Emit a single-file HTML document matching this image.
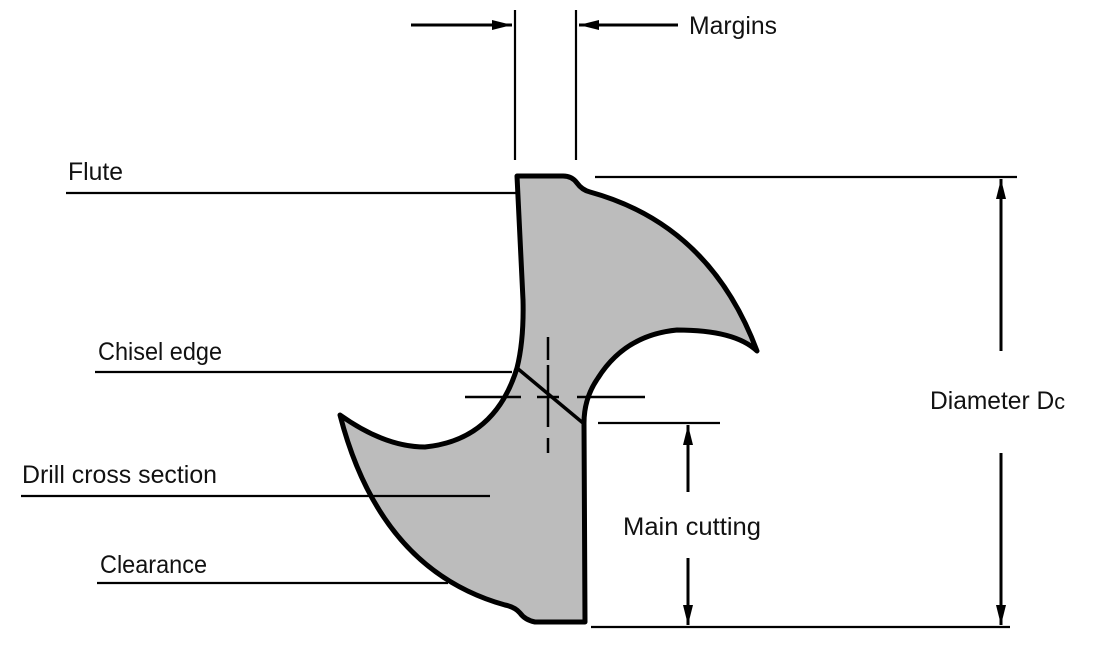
<!DOCTYPE html>
<html><head><meta charset="utf-8"><style>
html,body{margin:0;padding:0;background:#fff;}
svg{display:block;}
text{font-family:"Liberation Sans",sans-serif;font-size:25px;fill:#111;}
</style></head><body>
<svg width="1095" height="648" viewBox="0 0 1095 648" xmlns="http://www.w3.org/2000/svg">
<defs>
<marker id="ah" viewBox="0 0 20 10" refX="20" refY="5" markerWidth="20" markerHeight="10" markerUnits="userSpaceOnUse" orient="auto">
<path d="M0,0 L20,5 L0,10 z" fill="#000"/></marker>
</defs>
<path d="M517,176 L563,176 Q572,176 577,183 Q582,190 590,192 Q710,225 757,351 Q735,330 677,330 Q625,335 598,378 Q584,398 584,423 L585,622 L535,622 Q525,620 520,613 Q515,607 505,605 Q380,570 340,415 Q385,447 425,447 Q495,440 517,368 Q524,340 523,300 Z" fill="#bcbcbc" stroke="#000" stroke-width="5" stroke-linejoin="round"/>
<line x1="517" y1="368" x2="583" y2="423" stroke="#000" stroke-width="3.5"/>
<g stroke="#000" stroke-width="2.5">
<line x1="465" y1="397" x2="521" y2="397"/><line x1="537" y1="397" x2="559" y2="397"/><line x1="577" y1="397" x2="645" y2="397"/>
<line x1="548" y1="337" x2="548" y2="360"/><line x1="548" y1="365" x2="548" y2="427"/><line x1="548" y1="438" x2="548" y2="453"/>
</g>
<g stroke="#000" stroke-width="2.2">
<line x1="66" y1="193" x2="517" y2="193"/>
<line x1="95" y1="372" x2="512" y2="372"/>
<line x1="21" y1="496" x2="490" y2="496"/>
<line x1="97" y1="583" x2="448" y2="583"/>
<line x1="595" y1="177" x2="1017" y2="177"/>
<line x1="591" y1="627" x2="1010" y2="627"/>
<line x1="598" y1="423" x2="720" y2="423"/>
<line x1="515" y1="10" x2="515" y2="160"/>
<line x1="576" y1="10" x2="576" y2="160"/>
</g>
<g stroke="#000" stroke-width="3" marker-end="url(#ah)">
<line x1="411" y1="25" x2="512" y2="25"/>
<line x1="678" y1="25" x2="579" y2="25"/>
<line x1="688" y1="492" x2="688" y2="425"/>
<line x1="688" y1="558" x2="688" y2="625"/>
<line x1="1001" y1="351" x2="1001" y2="179"/>
<line x1="1001" y1="453" x2="1001" y2="625"/>
</g>
<text x="689" y="34" textLength="88" lengthAdjust="spacingAndGlyphs">Margins</text>
<text x="68" y="180" textLength="55" lengthAdjust="spacingAndGlyphs">Flute</text>
<text x="98" y="360" textLength="124" lengthAdjust="spacingAndGlyphs">Chisel edge</text>
<text x="22" y="483" textLength="195" lengthAdjust="spacingAndGlyphs">Drill cross section</text>
<text x="100" y="573" textLength="107" lengthAdjust="spacingAndGlyphs">Clearance</text>
<text x="623" y="535" textLength="138" lengthAdjust="spacingAndGlyphs">Main cutting</text>
<text x="930" y="409" textLength="135" lengthAdjust="spacingAndGlyphs">Diameter D<tspan font-size="22">c</tspan></text>
</svg>
</body></html>
